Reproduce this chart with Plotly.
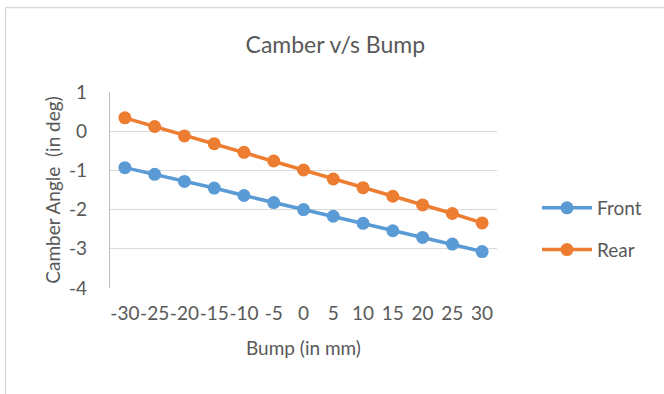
import plotly.graph_objects as go

bump = [-30, -25, -20, -15, -10, -5, 0, 5, 10, 15, 20, 25, 30]
front = [-0.93, -1.10, -1.28, -1.45, -1.64, -1.82, -2.00, -2.17, -2.35, -2.54, -2.71, -2.88, -3.07]
rear = [0.34, 0.12, -0.12, -0.32, -0.54, -0.76, -0.99, -1.22, -1.44, -1.66, -1.88, -2.10, -2.34]
y_ticks = [1, 0, -1, -2, -3, -4]
y_tick_text = ["1", "0", "-1", "-2", "-3", "-4"]

FONT = "Lato"
GREY = "#595959"
cats = [str(b) for b in bump]

fig = go.Figure()
fig.add_trace(go.Scatter(x=cats, y=front, name="Front", mode="lines+markers",
                         line=dict(color="#5B9BD5", width=3.5),
                         marker=dict(color="#5B9BD5", size=13),
                         legendgroup="f"))
fig.add_trace(go.Scatter(x=cats, y=rear, name="Rear", mode="lines+markers",
                         line=dict(color="#ED7D31", width=3.5),
                         marker=dict(color="#ED7D31", size=13),
                         legendgroup="r"))

W, H = 664, 394
L, R, T, B = 110, 167, 92, 106
pw, ph = W - L - R, H - T - B

def px2x(p):
    return (p - L) / pw

def px2y(p):
    return 1 - (p - T) / ph

fig.update_layout(
    width=W, height=H,
    margin=dict(l=L, r=R, t=T, b=B),
    paper_bgcolor="white", plot_bgcolor="white",
    font=dict(family=FONT, color=GREY, size=19),
    title=dict(text="Camber v/s Bump", x=0.505, xanchor="center", y=1 - 45 / H, yanchor="middle",
               font=dict(size=23, color=GREY, family=FONT)),
    xaxis=dict(type="category", tickangle=0, showgrid=False, showline=False,
               range=[-0.5, len(cats) - 0.5],
               ticks="", tickfont=dict(size=19, color=GREY), ticklabelstandoff=12,
               title=dict(text="Bump (in mm)", font=dict(size=19, color=GREY), standoff=18)),
    yaxis=dict(range=[-4, 1], tickvals=y_ticks, ticktext=y_tick_text,
               showgrid=True, gridcolor="#d9d9d9", gridwidth=1.3,
               zeroline=False, showline=True, linecolor="#bfbfbf", linewidth=1.3,
               ticks="", tickfont=dict(size=19, color=GREY), ticklabelstandoff=18,
               title=dict(text="Camber Angle  (in deg)", font=dict(size=19, color=GREY), standoff=3)),
    legend=dict(x=px2x(537), y=px2y(189), xanchor="left", yanchor="top",
                font=dict(size=19, color=GREY), tracegroupgap=14, itemwidth=50),
    showlegend=True,
    shapes=[
        dict(type="line", xref="paper", yref="paper", x0=px2x(5.5), x1=px2x(700), y0=px2y(7.5), y1=px2y(7.5),
             line=dict(color="#d9d9d9", width=1.3)),
        dict(type="line", xref="paper", yref="paper", x0=px2x(5.5), x1=px2x(5.5), y0=px2y(7.5), y1=px2y(420),
             line=dict(color="#d9d9d9", width=1.3)),
    ],
)

fig.write_html("out.html")
